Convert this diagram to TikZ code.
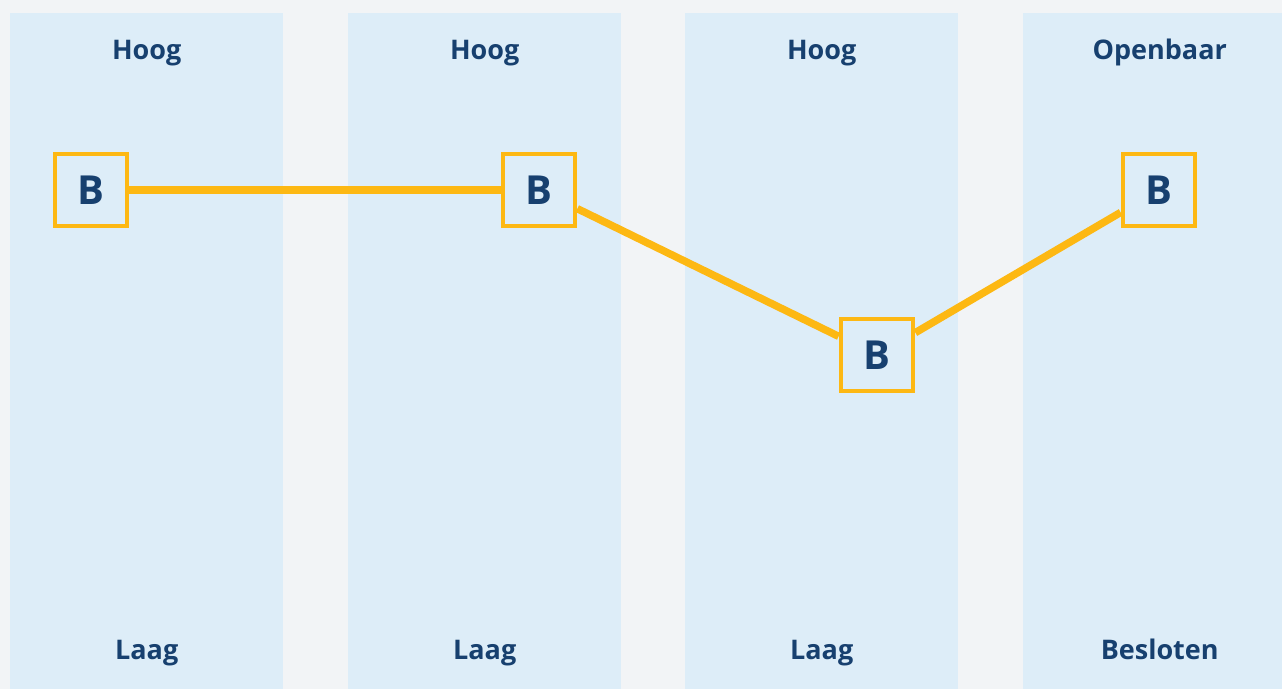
\documentclass[tikz,border=0pt]{standalone}
\usepackage{fontspec}
\setmainfont{Open Sans}
\usetikzlibrary{positioning,calc}
\definecolor{bggrey}{HTML}{F2F4F6}
\definecolor{colblue}{HTML}{DDEDF8}
\definecolor{txtblue}{HTML}{17406F}
\definecolor{barorange}{HTML}{FDB813}
\begin{document}
\begin{tikzpicture}[x=1pt, y=-1pt, lbl/.style={text = txtblue, font = \fontsize{27}{30}\selectfont\bfseries, inner sep = 0pt, anchor = base}]
\tikzstyle{col}=[fill = colblue, draw = none, minimum width = 273pt, minimum height = 676pt, anchor = north west, inner sep = 0pt]
\tikzstyle{bx}=[draw = barorange, line width = 4.7pt, fill = colblue, minimum size = 72pt, inner sep = 0pt, text = txtblue, font = \fontsize{40}{44}\selectfont\bfseries]
\fill[bggrey] (0,0) rectangle (1282,689);
\useasboundingbox (0,0) rectangle (1282,689);
\begin{scope}
\clip (0,0) rectangle (1282,689);
\foreach \i/\x/\top/\bot in {1/10/Hoog/Laag,2/348/Hoog/Laag,3/685/Hoog/Laag,4/1023/Openbaar/Besloten}{
  \node[col] (c\i) at (\x,13) {};
  \node[lbl] (t\i) at ($(c\i.north)+(0,46)$) {\top};
  \node[lbl] (l\i) at ($(c\i.south)+(0,-30)$) {\bot};
}
\end{scope}
\node[bx] (b1) at (91,190) {B};
\node[bx] (b2) at (539,190) {B};
\node[bx] (b3) at (877,355) {B};
\node[bx] (b4) at (1159,190) {B};
\foreach \i/\j in {b1/b2,b2/b3,b3/b4}{\draw[barorange, line width = 7.5pt] (\i) -- (\j);}
\end{tikzpicture}
\end{document}
